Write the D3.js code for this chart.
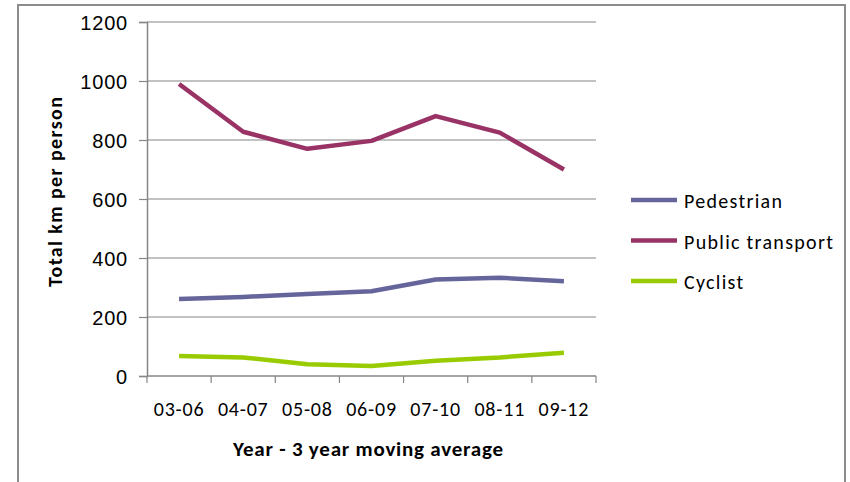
<!DOCTYPE html>
<html>
<head>
<meta charset="utf-8">
<script src="https://cdn.jsdelivr.net/npm/d3@7"></script>
<style>
  html, body { margin: 0; padding: 0; background: #fff; }
  svg { display: block; font-family: Carlito, Calibri, Lato, "Open Sans", sans-serif; }
</style>
</head>
<body>
<svg id="chart" width="850" height="482"></svg>
<script>
// Travel distance per person, 3-year moving averages
const periods = ["03-06", "04-07", "05-08", "06-09", "07-10", "08-11", "09-12"];
const pedestrian = [261, 268, 278, 287, 327, 333, 321];
const publicTransport = [990, 828, 770, 797, 881, 825, 700];
const cyclist = [68, 63, 40, 34, 52, 63, 79];
const yTicks = [0, 200, 400, 600, 800, 1000, 1200];

const seriesNames = ["Pedestrian", "Public transport", "Cyclist"];
const seriesColors = ["#65659b", "#993366", "#99cc00"];
const series = [pedestrian, publicTransport, cyclist].map((values, i) => ({
  name: seriesNames[i], color: seriesColors[i], values
}));

const svg = d3.select("#chart");
const gridColor = "#868686";
const labelSize = "20px";
const labelSpacing = "0.8px";

// outer chart border
svg.append("rect")
  .attr("x", 18).attr("y", 5)
  .attr("width", 827).attr("height", 480)
  .attr("fill", "none").attr("stroke", "#8c8c8c").attr("stroke-width", 2);

const plot = { left: 147, right: 596, top: 22, bottom: 376 };

const x = d3.scaleBand().domain(periods).range([plot.left, plot.right]).padding(0);
const y = d3.scaleLinear().domain([0, 1200]).range([plot.bottom, plot.top]);

// horizontal gridlines
svg.append("g")
  .selectAll("line")
  .data(yTicks.filter(t => t > 0))
  .join("line")
  .attr("x1", plot.left).attr("x2", plot.right)
  .attr("y1", d => y(d)).attr("y2", d => y(d))
  .attr("stroke", gridColor).attr("stroke-width", 1.2);

// y axis
const yAxis = svg.append("g")
  .attr("transform", `translate(${plot.left},0)`)
  .call(d3.axisLeft(y).tickValues(yTicks).tickSize(8).tickPadding(11).tickFormat(d3.format("d")));
yAxis.select(".domain").attr("stroke", gridColor).attr("stroke-width", 1.5);
yAxis.selectAll(".tick line").attr("stroke", gridColor).attr("stroke-width", 1.2);
yAxis.selectAll(".tick text")
  .attr("fill", "#000").attr("dy", "0.36em")
  .style("font-size", labelSize).style("letter-spacing", labelSpacing).style("font-family", null);

// x axis: ticks at category boundaries
const xAxis = svg.append("g")
  .attr("transform", `translate(0,${plot.bottom})`);
xAxis.append("line")
  .attr("x1", plot.left).attr("x2", plot.right)
  .attr("stroke", gridColor).attr("stroke-width", 1.5);
const bounds = periods.map(p => x(p)).concat([x(periods[periods.length - 1]) + x.bandwidth()]);
xAxis.selectAll("line.tick")
  .data(bounds)
  .join("line")
  .attr("class", "tick")
  .attr("x1", d => d).attr("x2", d => d)
  .attr("y1", 0).attr("y2", 7)
  .attr("stroke", gridColor).attr("stroke-width", 1.2);
xAxis.selectAll("text")
  .data(periods)
  .join("text")
  .attr("x", d => x(d) + x.bandwidth() / 2)
  .attr("y", 40)
  .attr("text-anchor", "middle")
  .style("font-size", labelSize).style("letter-spacing", labelSpacing)
  .text(d => d);

// axis titles
svg.append("text")
  .attr("transform", `translate(62,192) rotate(-90)`)
  .attr("text-anchor", "middle")
  .attr("textLength", 190).attr("lengthAdjust", "spacing")
  .style("font-size", "20px").style("font-weight", "bold")
  .text("Total km per person");

svg.append("text")
  .attr("x", 368).attr("y", 456)
  .attr("text-anchor", "middle")
  .attr("textLength", 270).attr("lengthAdjust", "spacing")
  .style("font-size", "21px").style("font-weight", "bold")
  .text("Year - 3 year moving average");

// series lines
const line = d3.line()
  .x((d, i) => x(periods[i]) + x.bandwidth() / 2)
  .y(d => y(d));

svg.append("g")
  .selectAll("path")
  .data(series)
  .join("path")
  .attr("d", d => line(d.values))
  .attr("fill", "none")
  .attr("stroke", d => d.color)
  .attr("stroke-width", 4.5)
  .attr("stroke-linejoin", "round");

// legend
const legend = svg.append("g");
const legendY = d3.scalePoint().domain(seriesNames).range([200, 281]);
const item = legend.selectAll("g").data(series).join("g")
  .attr("transform", d => `translate(631,${legendY(d.name)})`);
item.append("line")
  .attr("x1", 0).attr("x2", 46)
  .attr("stroke", d => d.color).attr("stroke-width", 4.5);
item.append("text")
  .attr("x", 53).attr("y", 8)
  .style("font-size", "20px")
  .style("letter-spacing", "1.3px")
  .text(d => d.name);
</script>
</body>
</html>
